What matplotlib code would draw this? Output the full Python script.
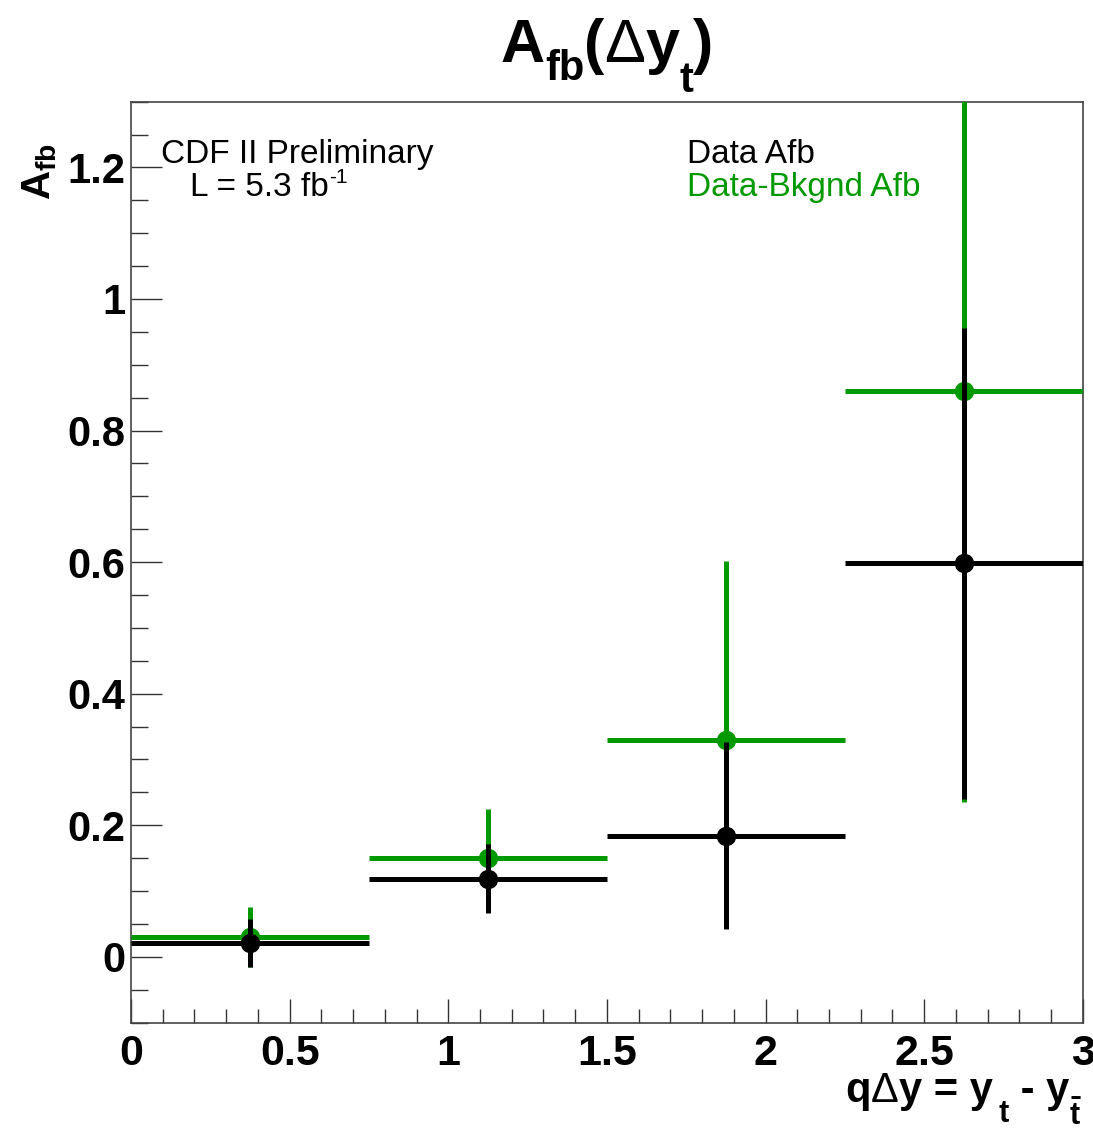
import matplotlib
matplotlib.use("Agg")
import matplotlib.pyplot as plt
from matplotlib.ticker import MultipleLocator
from matplotlib.transforms import IdentityTransform

# bins of q*dy = y_t - y_tbar
bin_edges = [0.0, 0.75, 1.5, 2.25, 3.0]
bin_centers = [0.375, 1.125, 1.875, 2.625]
bin_halfwidth = [0.375, 0.375, 0.375, 0.375]

# raw data asymmetry
afb_data = [0.021, 0.119, 0.184, 0.598]
afb_data_err = [0.036, 0.053, 0.142, 0.358]

# background-subtracted asymmetry
afb_sub = [0.030, 0.150, 0.329, 0.860]
afb_sub_err = [0.046, 0.075, 0.273, 0.624]

green = '#009900'
W, H = 1093, 1133

plt.rcParams['font.family'] = ['Liberation Sans', 'DejaVu Sans']
plt.rcParams['mathtext.default'] = 'regular'

fig = plt.figure(figsize=(W / 100, H / 100), dpi=100)
ax = fig.add_axes([0.1199, 0.0974, 0.8707, 0.8129])
renderer = fig.canvas.get_renderer()


def rich_text(x, y, pieces, align='left'):
    """Lay out (text, size, drop_px, weight) pieces on one line, in pixels
    measured from the top-left corner."""
    arts = []
    cur = 0.0
    for s, size, drop, weight in pieces:
        t = fig.text(0, 0, s, fontsize=size, fontweight=weight,
                     transform=IdentityTransform(), ha='left', va='baseline')
        w = t.get_window_extent(renderer).width
        arts.append((t, cur, drop))
        cur += w
    if align == 'right':
        x0 = x - cur
    elif align == 'center':
        x0 = x - cur / 2
    else:
        x0 = x
    for t, cx, drop in arts:
        t.set_position((x0 + cx, H - (y + drop)))


ax.errorbar(bin_centers, afb_sub, xerr=bin_halfwidth, yerr=afb_sub_err,
            fmt='o', color=green, ms=13, elinewidth=3.6, capsize=0, zorder=3)
ax.errorbar(bin_centers, afb_data, xerr=bin_halfwidth, yerr=afb_data_err,
            fmt='o', color='black', ms=13, elinewidth=3.6, capsize=0, zorder=4)

ax.set_xlim(bin_edges[0], bin_edges[-1])
ax.set_ylim(-0.1, 1.3)

ax.xaxis.set_major_locator(MultipleLocator(0.5))
ax.xaxis.set_minor_locator(MultipleLocator(0.1))
ax.yaxis.set_major_locator(MultipleLocator(0.2))
ax.yaxis.set_minor_locator(MultipleLocator(0.05))
ax.xaxis.set_major_formatter(lambda v, p: f'{v:g}')
ax.yaxis.set_major_formatter(lambda v, p: f'{v:g}' if abs(v) > 1e-9 else '0')

ax.tick_params(which='both', direction='in', top=False, right=False,
               color='#333333', width=1.0)
ax.tick_params(axis='x', which='major', length=17, pad=8, labelsize=31)
ax.tick_params(axis='x', which='minor', length=10)
ax.tick_params(axis='y', which='major', length=22, pad=4, labelsize=30)
ax.tick_params(axis='y', which='minor', length=12)
for lab in ax.get_xticklabels() + ax.get_yticklabels():
    lab.set_fontweight('bold')

for s in ax.spines.values():
    s.set_color('#444444')
    s.set_linewidth(1.2)

# title
rich_text(607, 62, [('A', 44, 0, 'bold'), ('fb', 30, 18, 'bold'),
                    ('(', 44, 0, 'bold'), ('\u0394', 44, 0, 'normal'),
                    ('y', 44, 0, 'bold'), ('t', 30, 30, 'bold'),
                    (')', 44, 0, 'bold')], align='center')

# x axis title
rich_text(1082, 1102, [('q', 30, 0, 'bold'), ('\u0394', 30, 0, 'normal'),
                       ('y = y', 30, 0, 'bold'), ('\u2009t', 22, 20, 'bold'),
                       (' - y', 30, 0, 'bold'),
                       (r'$\bar{t}$', 22, 23, 'bold')], align='right')

# y axis title
fig.text(40 / W, 1 - 143 / H, r'A$_{fb}$', rotation=90, ha='center',
         va='top', fontsize=29, fontweight='bold')

# labels inside the frame
ax.text(0.031, 0.933, 'CDF II Preliminary', transform=ax.transAxes,
        fontsize=24, va='baseline')
lum = ax.text(0.062, 0.898, 'L = 5.3 fb', transform=ax.transAxes,
              fontsize=24, va='baseline')
ax.annotate('-1', xy=(1, 0.62), xycoords=lum, fontsize=15, va='baseline',
            ha='left')
ax.text(0.584, 0.933, 'Data Afb', transform=ax.transAxes,
        fontsize=24, va='baseline', color='black')
ax.text(0.584, 0.898, 'Data-Bkgnd Afb', transform=ax.transAxes,
        fontsize=24, va='baseline', color=green)

fig.savefig('out.png', dpi=100)
